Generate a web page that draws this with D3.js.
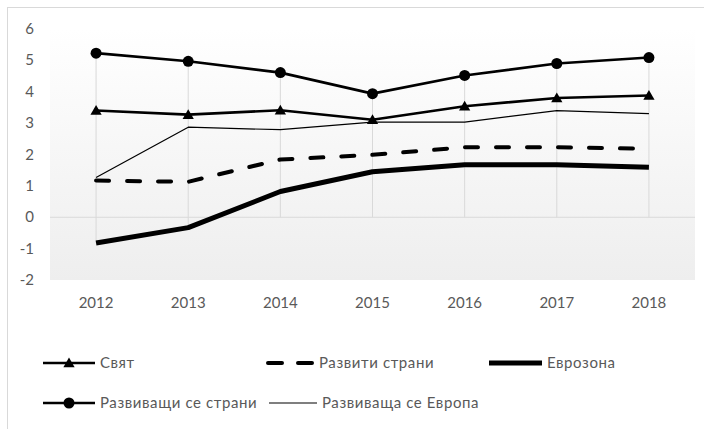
<!DOCTYPE html>
<html>
<head>
<meta charset="utf-8">
<script src="https://cdn.jsdelivr.net/npm/d3@7"></script>
<style>
  body{margin:0;background:#fff;}
  text{font-family:"Lato","Open Sans",sans-serif;fill:#595959;}
</style>
</head>
<body>
<div id="stage"></div>
<script>

var years=["2012","2013","2014","2015","2016","2017","2018"];
var yTicks=[-2,-1,0,1,2,3,4,5,6];

var svyat=[3.40,3.27,3.41,3.11,3.54,3.80,3.88];
var razviti=[1.17,1.13,1.84,1.99,2.23,2.23,2.18];
var evrozona=[-0.82,-0.33,0.82,1.45,1.67,1.67,1.59];
var razvivashti=[5.23,4.97,4.61,3.94,4.52,4.90,5.09];
var razvEvropa=[1.27,2.87,2.79,3.03,3.03,3.40,3.30];

var names=["Свят","Развити страни","Еврозона","Развиващи се страни","Развиваща се Европа"];

var series=[
  {name:names[0], v:svyat, w:2.6, marker:"tri"},
  {name:names[1], v:razviti, w:4, dash:"13,18"},
  {name:names[2], v:evrozona, w:5},
  {name:names[3], v:razvivashti, w:2.6, marker:"circ"},
  {name:names[4], v:razvEvropa, w:1.2}
];

var W=704, H=429;
var svg=d3.select("#stage").append("svg").attr("width",W).attr("height",H);

// chart border
svg.append("rect").attr("x",7.5).attr("y",7.5).attr("width",720).attr("height",440)
  .attr("fill","#fff").attr("stroke","#d9d9d9");

var x=d3.scaleBand().domain(years).range([50,695]);
var y=d3.scaleLinear().domain([-2,6]).range([280,29]);

var grad=svg.append("defs").append("linearGradient").attr("id","bg")
  .attr("x1",0).attr("y1",0).attr("x2",0).attr("y2",1);
grad.append("stop").attr("offset","0%").attr("stop-color","#ffffff");
grad.append("stop").attr("offset","100%").attr("stop-color","#eeeeee");

svg.append("rect").attr("x",50).attr("y",y(6)).attr("width",645).attr("height",y(-2)-y(6))
  .attr("fill","url(#bg)");

// zero line
svg.append("line").attr("x1",50).attr("x2",695).attr("y1",y(0)).attr("y2",y(0))
  .attr("stroke","#d9d9d9").attr("stroke-width",1);

// drop lines
years.forEach(function(yr,i){
  var vals=series.map(function(s){return s.v[i]});
  var hi=Math.max(0,d3.max(vals)), lo=Math.min(0,d3.min(vals));
  svg.append("line").attr("x1",x(yr)+x.bandwidth()/2).attr("x2",x(yr)+x.bandwidth()/2)
    .attr("y1",y(hi)).attr("y2",y(lo)).attr("stroke","#d9d9d9").attr("stroke-width",1);
});

// axes labels
svg.append("g").selectAll("text").data(yTicks).enter().append("text")
  .attr("x",34).attr("y",function(d){return y(d)+5})
  .attr("text-anchor","end").style("font-size","15px")
  .text(function(d){return d});

svg.append("g").selectAll("text").data(years).enter().append("text")
  .attr("x",function(d){return x(d)+x.bandwidth()/2}).attr("y",308)
  .attr("text-anchor","middle").style("font-size","15px")
  .text(function(d){return d});

var line=d3.line()
  .x(function(d,i){return x(years[i])+x.bandwidth()/2})
  .y(function(d){return y(d)});

function marker(g,type,cx,cy){
  if(type=="circ"){
    g.append("circle").attr("cx",cx).attr("cy",cy).attr("r",5.5).attr("fill","#000");
  }else if(type=="tri"){
    g.append("path").attr("d",d3.symbol().type(d3.symbolTriangle).size(55))
      .attr("transform","translate("+cx+","+(cy+1)+")").attr("fill","#000");
  }
}

// thin first, then the rest
var order=[4,2,1,0,3];
order.forEach(function(k){
  var s=series[k];
  svg.append("path").datum(s.v).attr("d",line).attr("fill","none")
    .attr("stroke","#000").attr("stroke-width",s.w)
    .attr("stroke-dasharray",s.dash||null)
    .attr("stroke-linecap",s.dash?"round":"butt")
    .attr("stroke-linejoin","round");
  if(s.marker){
    s.v.forEach(function(v,i){
      marker(svg,s.marker,x(years[i])+x.bandwidth()/2,y(v));
    });
  }
});

// legend
var leg=[
  {s:0,x:43,y:363,len:52},{s:1,x:268,y:363,len:46},{s:2,x:489,y:363,len:53},
  {s:3,x:43,y:403,len:52},{s:4,x:269,y:403,len:48}
];
leg.forEach(function(l){
  var s=series[l.s];
  var g=svg.append("g");
  g.append("line").attr("x1",l.x).attr("x2",l.x+l.len).attr("y1",l.y).attr("y2",l.y)
    .attr("stroke","#000").attr("stroke-width",s.w)
    .attr("stroke-dasharray",s.dash?"14,16":null)
    .attr("stroke-linecap",s.dash?"round":"butt");
  if(s.marker) marker(g,s.marker,l.x+l.len/2,l.y);
  g.append("text").attr("x",l.x+l.len+5).attr("y",l.y+5).style("font-size","15px")
    .style("letter-spacing","0.6px").text(s.name);
});

</script>
</body>
</html>
